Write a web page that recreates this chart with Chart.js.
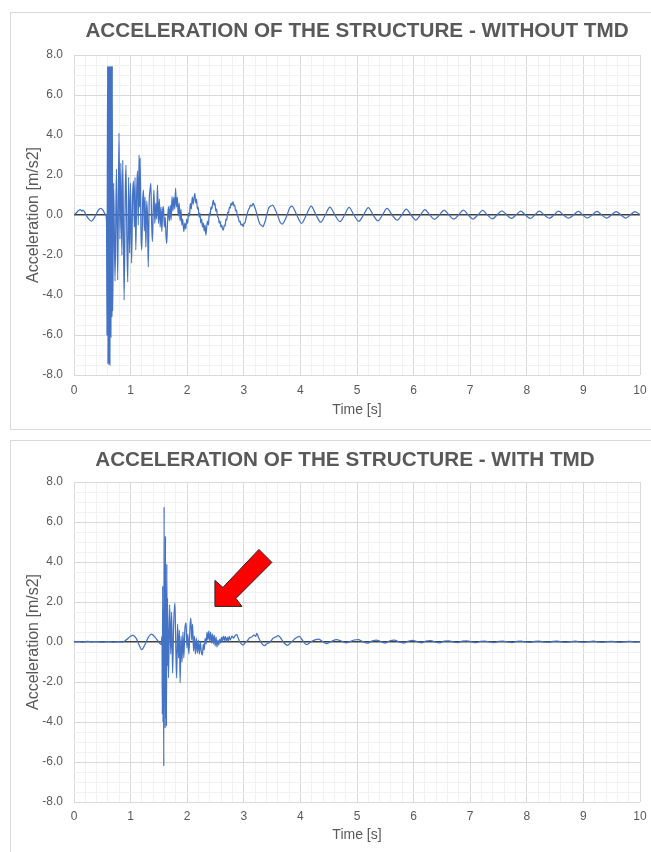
<!DOCTYPE html>
<html>
<head>
<meta charset="utf-8">
<title>Acceleration of the structure</title>
<script src="https://cdn.jsdelivr.net/npm/chart.js@4.4.1/dist/chart.umd.min.js"></script>
<style>
  html, body { margin: 0; padding: 0; background: #fff; overflow: hidden; }
  body { width: 651px; height: 852px; position: relative; }
  .box { position: absolute; left: 10px; width: 700px; border: 1px solid #d9d9d9; }
  #boxTop { top: 12px; height: 416px; }
  #boxBottom { top: 440px; height: 500px; }
  canvas { position: absolute; left: 11px; }
  #chartTop { top: 13px; }
  #chartBottom { top: 441px; }
</style>
</head>
<body>
<div class="box" id="boxTop"></div>
<div class="box" id="boxBottom"></div>
<canvas id="chartTop" width="640" height="416"></canvas>
<canvas id="chartBottom" width="640" height="411"></canvas>
<script>
// titres et axes
const titleWithout = 'ACCELERATION OF THE STRUCTURE - WITHOUT TMD';
const titleWith = 'ACCELERATION OF THE STRUCTURE - WITH TMD';
const xAxisTitle = 'Time [s]';
const yAxisTitle = 'Acceleration [m/s2]';
const timeRange = [0, 10];
const accRange = [-8, 8];

// structure sans TMD : temps [s] et acceleration [m/s2]
const timeWithoutTmd = [
  0.00, 0.04, 0.08, 0.11, 0.14, 0.16, 0.19, 0.23, 0.27, 0.31,
  0.35, 0.39, 0.43, 0.47, 0.51, 0.55, 0.575, 0.583, 0.589, 0.595,
  0.601, 0.607, 0.612, 0.618, 0.623, 0.628, 0.634, 0.640, 0.646, 0.652,
  0.658, 0.664, 0.670, 0.676, 0.682, 0.688, 0.700, 0.725, 0.750, 0.772,
  0.795, 0.812, 0.828, 0.846, 0.862, 0.885, 0.905, 0.918, 0.935, 0.950,
  0.965, 0.982, 0.998, 1.018, 1.035, 1.050, 1.066, 1.078, 1.092, 1.108,
  1.122, 1.135, 1.150, 1.160, 1.168, 1.185, 1.198, 1.214, 1.228, 1.242,
  1.255, 1.270, 1.285, 1.300, 1.312, 1.328, 1.342, 1.358, 1.372, 1.385,
  1.400, 1.412, 1.428, 1.445, 1.460, 1.475, 1.492, 1.508, 1.522, 1.538,
  1.552, 1.566, 1.580, 1.596, 1.612, 1.625, 1.638, 1.652, 1.668, 1.684,
  1.700, 1.716, 1.732, 1.748, 1.764, 1.780, 1.795, 1.810, 1.826, 1.842,
  1.858, 1.874, 1.890, 1.905, 1.920, 1.940, 1.958, 1.975, 1.992, 2.008,
  2.024, 2.040, 2.055, 2.072, 2.090, 2.105, 2.120, 2.135, 2.150, 2.165,
  2.180, 2.195, 2.210, 2.225, 2.240, 2.255, 2.270, 2.285, 2.300, 2.315,
  2.330, 2.345, 2.360, 2.375, 2.390, 2.405, 2.420, 2.435, 2.450, 2.462,
  2.475, 2.490, 2.505, 2.520, 2.535, 2.550, 2.565, 2.580, 2.595, 2.610,
  2.625, 2.640, 2.655, 2.670, 2.685, 2.700, 2.715, 2.730, 2.745, 2.760,
  2.775, 2.790, 2.810, 2.825, 2.840, 2.855, 2.870, 2.885, 2.900, 2.920,
  2.935, 2.950, 2.970, 2.990, 3.005, 3.020, 3.040, 3.060, 3.080, 3.100,
  3.120, 3.140, 3.165, 3.185, 3.205, 3.225, 3.245, 3.265, 3.285, 3.305,
  3.325, 3.340, 3.360, 3.380, 3.400, 3.420, 3.440, 3.460, 3.485, 3.510,
  3.550, 3.595, 3.640, 3.680, 3.720, 3.765, 3.810, 3.850, 3.935, 4.020,
  4.105, 4.190, 4.275, 4.360, 4.440, 4.520, 4.610, 4.700, 4.780, 4.860,
  4.945, 5.030, 5.115, 5.200, 5.285, 5.370, 5.450, 5.530, 5.620, 5.710,
  5.790, 5.870, 5.955, 6.040, 6.120, 6.200, 6.285, 6.370, 6.455, 6.540,
  6.625, 6.710, 6.795, 6.880, 6.965, 7.050, 7.135, 7.220, 7.305, 7.390,
  7.475, 7.560, 7.645, 7.730, 7.810, 7.890, 7.975, 8.060, 8.140, 8.220,
  8.310, 8.400, 8.480, 8.560, 8.650, 8.740, 8.825, 8.910, 8.990, 9.070,
  9.155, 9.240, 9.325, 9.410, 9.495, 9.580, 9.665, 9.750, 9.830, 9.910,
  10.000
];
const accWithoutTmd = [
  0.00, 0.10, 0.22, 0.27, 0.20, 0.25, 0.13, -0.08, -0.23, -0.30,
  -0.18, 0.02, 0.24, 0.33, 0.25, 0.05, -0.30, -6.00, 1.80, 7.45,
  -7.45, 0.60, 7.45, -7.40, -1.80, 7.45, -7.50, 1.60, 7.45, -6.10,
  0.90, 7.45, -5.10, 7.45, -4.80, -3.40, 1.60, -3.30, 2.30, -3.25,
  4.10, -1.20, 2.60, -2.00, 2.75, -4.25, 1.00, 2.50, -1.40, -3.35,
  1.90, -1.90, 1.60, -2.40, 0.90, 1.70, -0.60, 1.90, -1.75, 1.20,
  2.20, -0.50, 3.00, 0.40, 2.85, -1.10, -1.75, 0.70, 1.25, -0.80,
  0.90, -1.60, 0.70, -0.30, -2.60, 0.60, 1.20, 1.58, -0.40, -1.33,
  0.30, 1.25, -0.42, 0.60, -0.20, 1.50, -0.42, 0.80, -0.60, 0.40,
  -0.83, 0.20, 0.42, -0.60, -0.10, -1.00, -1.42, -0.40, 0.42, -0.30,
  0.50, -0.25, 0.92, 0.20, 0.90, 0.30, 1.33, 0.40, 0.90, -0.05,
  0.60, -0.30, 0.30, -0.50, -0.20, -0.83, -0.40, -0.70, -0.20, -0.42,
  0.10, -0.05, 0.58, 0.30, 0.90, 0.55, 0.85, 1.08, 0.60, 0.80,
  0.30, 0.40, -0.10, 0.10, -0.40, -0.20, -0.60, -0.40, -0.80, -0.50,
  -1.00, -0.60, -0.30, -0.50, 0.10, -0.05, 0.40, 0.30, 0.60, 0.75,
  0.50, 0.60, 0.20, 0.30, -0.10, -0.10, -0.40, -0.30, -0.60, -0.50,
  -0.70, -0.75, -0.50, -0.55, -0.20, -0.25, 0.15, 0.10, 0.40, 0.35,
  0.60, 0.50, 0.67, 0.45, 0.50, 0.20, 0.25, -0.05, -0.10, -0.35,
  -0.30, -0.50, -0.45, -0.58, -0.40, -0.40, -0.15, 0.05, 0.25, 0.35,
  0.50, 0.45, 0.58, 0.45, 0.30, 0.10, -0.10, -0.30, -0.45, -0.50,
  -0.55, -0.58, -0.45, -0.30, -0.05, 0.15, 0.35, 0.42, 0.46, 0.50,
  0.30, 0.00, -0.35, -0.45, -0.30, 0.00, 0.35, 0.45, 0.00, -0.42,
  0.00, 0.45, 0.00, -0.36, 0.00, 0.40, 0.00, -0.33, 0.00, 0.38,
  0.00, -0.31, 0.00, 0.37, 0.00, -0.29, 0.00, 0.33, 0.00, -0.26,
  0.00, 0.30, 0.00, -0.25, 0.00, 0.27, 0.00, -0.22, 0.00, 0.25,
  0.00, -0.21, 0.00, 0.24, 0.00, -0.20, 0.00, 0.23, 0.00, -0.19,
  0.00, 0.21, 0.00, -0.17, 0.00, 0.20, 0.00, -0.17, 0.00, 0.19,
  0.00, -0.16, 0.00, 0.19, 0.00, -0.16, 0.00, 0.18, 0.00, -0.15,
  0.00, 0.18, 0.00, -0.15, 0.00, 0.17, 0.00, -0.15, 0.00, 0.17,
  0.02
];

// structure avec TMD
const timeWithTmd = [
  0.00, 0.08, 0.16, 0.24, 0.32, 0.40, 0.50, 0.60, 0.70, 0.80,
  0.86, 0.93, 0.99, 1.04, 1.10, 1.155, 1.196, 1.25, 1.31, 1.37,
  1.43, 1.49, 1.54, 1.555, 1.561, 1.567, 1.573, 1.579, 1.586, 1.592,
  1.598, 1.604, 1.610, 1.616, 1.622, 1.628, 1.634, 1.640, 1.646, 1.652,
  1.670, 1.690, 1.710, 1.725, 1.742, 1.760, 1.784, 1.800, 1.814, 1.830,
  1.848, 1.862, 1.875, 1.892, 1.908, 1.925, 1.940, 1.960, 1.980, 1.996,
  2.012, 2.030, 2.050, 2.065, 2.080, 2.095, 2.112, 2.128, 2.145, 2.162,
  2.180, 2.198, 2.215, 2.232, 2.250, 2.268, 2.285, 2.300, 2.318, 2.335,
  2.350, 2.366, 2.382, 2.398, 2.414, 2.430, 2.446, 2.462, 2.478, 2.494,
  2.510, 2.526, 2.542, 2.558, 2.574, 2.590, 2.606, 2.622, 2.640, 2.656,
  2.672, 2.690, 2.708, 2.724, 2.742, 2.760, 2.790, 2.820, 2.850, 2.874,
  2.900, 2.930, 2.960, 2.990, 3.020, 3.060, 3.100, 3.140, 3.180, 3.210,
  3.230, 3.260, 3.300, 3.340, 3.370, 3.400, 3.440, 3.480, 3.520, 3.560,
  3.610, 3.650, 3.700, 3.740, 3.770, 3.810, 3.860, 3.920, 3.950, 3.980,
  4.020, 4.060, 4.110, 4.160, 4.210, 4.270, 4.320, 4.380, 4.460, 4.540,
  4.640, 4.720, 4.800, 4.880, 4.950, 5.020, 5.100, 5.180, 5.260, 5.340,
  5.420, 5.500, 5.580, 5.660, 5.740, 5.820, 5.900, 5.980, 6.060, 6.140,
  6.220, 6.300, 6.380, 6.460, 6.540, 6.620, 6.700, 6.780, 6.860, 6.940,
  7.020, 7.100, 7.180, 7.260, 7.340, 7.420, 7.500, 7.580, 7.660, 7.740,
  7.820, 7.900, 7.980, 8.060, 8.140, 8.220, 8.300, 8.380, 8.460, 8.540,
  8.620, 8.700, 8.780, 8.860, 8.940, 9.020, 9.100, 9.180, 9.260, 9.340,
  9.420, 9.500, 9.580, 9.660, 9.740, 9.820, 9.900, 10.000
];
const accWithTmd = [
  0.00, 0.02, 0.00, 0.03, 0.01, 0.02, -0.01, 0.02, 0.00, 0.01,
  0.00, 0.12, 0.27, 0.33, 0.18, -0.18, -0.38, -0.15, 0.22, 0.40,
  0.24, 0.02, -0.12, 0.30, -3.60, 2.80, -4.00, 1.50, -6.20, 6.76,
  -2.50, 1.80, -4.30, 5.30, -3.80, 1.20, -4.20, 3.90, -1.20, 2.20,
  -1.79, 1.87, -0.60, 1.50, -1.55, 0.80, 1.96, -0.50, -1.80, 0.90,
  -0.80, 0.60, -2.04, 0.30, -1.00, 0.50, -0.80, 0.70, 0.96, -0.30,
  0.40, -0.60, 0.80, 1.20, 0.10, 0.90, -0.45, 0.30, -0.60, 0.20,
  -0.55, 0.10, -0.60, 0.00, -0.50, -0.65, -0.10, -0.40, 0.20, -0.10,
  0.50, 0.10, 0.55, 0.05, 0.50, -0.05, 0.40, -0.10, 0.35, -0.20,
  0.25, -0.25, 0.10, -0.15, 0.15, -0.05, 0.25, 0.05, 0.30, 0.08,
  0.28, 0.02, 0.25, 0.05, 0.28, 0.10, 0.29, 0.20, 0.33, 0.37,
  0.20, 0.00, -0.10, -0.15, -0.05, 0.05, 0.20, 0.25, 0.35, 0.28,
  0.43, 0.22, 0.00, -0.15, -0.18, -0.10, -0.05, 0.05, 0.20, 0.25,
  0.32, 0.20, 0.00, -0.12, -0.17, -0.08, 0.05, 0.20, 0.25, 0.28,
  0.15, 0.00, -0.13, -0.05, 0.05, 0.12, 0.15, 0.05, -0.08, 0.02,
  0.12, 0.05, -0.04, 0.02, 0.10, 0.12, 0.02, -0.06, 0.04, 0.10,
  0.02, -0.05, 0.06, 0.09, 0.01, -0.05, 0.03, 0.08, 0.02, -0.04,
  0.05, 0.07, 0.00, -0.04, 0.04, 0.06, 0.00, -0.03, 0.04, 0.06,
  0.01, -0.03, 0.03, 0.05, 0.00, -0.03, 0.03, 0.05, 0.00, -0.03,
  0.03, 0.05, 0.00, -0.02, 0.03, 0.04, 0.00, -0.02, 0.03, 0.04,
  0.00, -0.02, 0.02, 0.04, 0.00, -0.02, 0.02, 0.04, 0.00, -0.02,
  0.02, 0.03, 0.00, -0.02, 0.02, 0.03, 0.00, 0.01
];

// pointe de la fleche rouge (en unites des axes)
const arrowTip = [2.49, 1.78];

const textColor = '#595959';
const fontFamily = "'Liberation Sans', Arial, sans-serif";
const titleFont = { family: fontFamily, size: 20.7, weight: 'bold' };

function isWhole(v, step) {
  const r = v / step;
  return Math.abs(r - Math.round(r)) < 1e-6;
}

const arrowPlugin = {
  id: 'tmdArrow',
  afterDatasetsDraw(chart) {
    const ctx = chart.ctx;
    const tx = chart.scales.x.getPixelForValue(arrowTip[0]);
    const ty = chart.scales.y.getPixelForValue(arrowTip[1]);
    const shape = [[0, 0], [0, -26], [8, -19], [44, -57], [57, -44], [21, -8], [27, 0]];
    ctx.save();
    ctx.beginPath();
    shape.forEach(([dx, dy], i) => {
      if (i === 0) ctx.moveTo(tx + dx, ty + dy);
      else ctx.lineTo(tx + dx, ty + dy);
    });
    ctx.closePath();
    ctx.fillStyle = '#ff0000';
    ctx.fill();
    ctx.lineWidth = 1;
    ctx.strokeStyle = '#262626';
    ctx.stroke();
    ctx.restore();
  }
};

// decale le titre horizontalement (le graphique du bas n'est pas centre pareil)
const titleShiftPlugin = {
  id: 'titleShift',
  afterLayout(chart, args, opts) {
    const tb = chart.titleBlock;
    if (tb && opts.dx) { tb.left += opts.dx; tb.right += opts.dx; }
  }
};

function makeChart(canvasId, times, values, titleText, lay, plugins) {
  const points = times.map((t, i) => ({ x: t, y: values[i] }));
  const lh = titleFont.size * 1.2;
  const titleTop = lay.titleCenter - lh / 2;
  const titleBottom = lay.plotTop - titleTop - lh;
  return new Chart(document.getElementById(canvasId).getContext('2d'), {
    type: 'line',
    data: {
      datasets: [{
        data: points,
        borderColor: '#4472c4',
        borderWidth: 1.25,
        pointRadius: 0,
        cubicInterpolationMode: 'monotone',
        fill: false
      }]
    },
    options: {
      responsive: false,
      animation: false,
      devicePixelRatio: 1,
      layout: { padding: { top: 0, right: 11, bottom: 0, left: 0 } },
      plugins: {
        legend: { display: false },
        tooltip: { enabled: false },
        titleShift: { dx: lay.titleShift || 0 },
        title: {
          display: true,
          text: titleText,
          fullSize: false,
          color: textColor,
          font: titleFont,
          padding: { top: titleTop, bottom: titleBottom }
        }
      },
      scales: {
        x: {
          type: 'linear',
          min: timeRange[0],
          max: timeRange[1],
          afterFit: s => { s.height = lay.xHeight; s.paddingRight = 0; },
          border: { display: false },
          grid: {
            drawTicks: false,
            color: c => isWhole(c.tick.value, 1) ? '#d9d9d9' : '#f2f2f2'
          },
          ticks: {
            stepSize: 0.2,
            autoSkip: false,
            maxRotation: 0,
            padding: lay.xTickPad,
            color: textColor,
            font: { family: fontFamily, size: 12 },
            callback: v => isWhole(v, 1) ? String(Math.round(v)) : ''
          },
          title: {
            display: true,
            text: xAxisTitle,
            color: textColor,
            font: { family: fontFamily, size: 14 },
            padding: { top: 0, bottom: lay.xTitleBottom }
          }
        },
        y: {
          type: 'linear',
          min: accRange[0],
          max: accRange[1],
          afterFit: s => { s.width = 63; },
          border: { display: false },
          grid: {
            drawTicks: false,
            color: c => c.tick.value === 0 ? '#404040' : (isWhole(c.tick.value, 2) ? '#d9d9d9' : '#f2f2f2'),
            lineWidth: c => c.tick.value === 0 ? 1.5 : 1
          },
          ticks: {
            stepSize: 0.5,
            autoSkip: false,
            padding: 11,
            color: textColor,
            font: { family: fontFamily, size: 12 },
            callback: v => isWhole(v, 2) ? v.toFixed(1) : ''
          },
          title: {
            display: true,
            text: yAxisTitle,
            color: textColor,
            font: { family: fontFamily, size: 16 },
            padding: { top: 12.9, bottom: 0 }
          }
        }
      }
    },
    plugins: [titleShiftPlugin].concat(plugins || [])
  });
}

makeChart('chartTop', timeWithoutTmd, accWithoutTmd, titleWithout,
  { titleCenter: 18, plotTop: 42, xHeight: 54, xTickPad: 8.5, xTitleBottom: 10.6 });
makeChart('chartBottom', timeWithTmd, accWithTmd, titleWith,
  { titleCenter: 19, plotTop: 41, xHeight: 50, xTickPad: 7, xTitleBottom: 8.6, titleShift: -12 }, [arrowPlugin]);
</script>
</body>
</html>
